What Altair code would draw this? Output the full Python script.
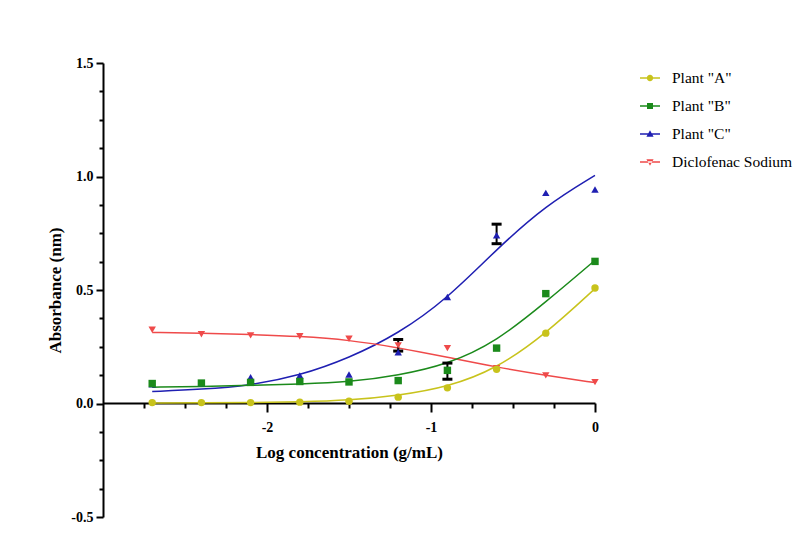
import altair as alt
import pandas as pd

# ---------------- data ----------------
series = ['Plant "A"', 'Plant "B"', 'Plant "C"', 'Diclofenac Sodium']
colors = ["#c8c31c", "#1b8a1b", "#1f1fb2", "#ef4a4a"]
marker_shapes = ["circle", "square", "triangle-up", "triangle-down"]

log_conc = [-2.7, -2.4, -2.1, -1.8, -1.5, -1.2, -0.9, -0.6, -0.3, 0.0]

plant_a = [0.004, 0.004, 0.004, 0.006, 0.010, 0.028, 0.069, 0.151, 0.310, 0.509]
plant_b = [0.088, 0.090, 0.093, 0.097, 0.095, 0.101, 0.146, 0.244, 0.484, 0.626]
plant_c = [0.085, 0.088, 0.116, 0.123, 0.128, 0.226, 0.469, 0.741, 0.928, 0.943]
diclofenac = [0.325, 0.305, 0.300, 0.296, 0.285, 0.256, 0.244, 0.155, 0.124, 0.094]

# fitted curves read at the same concentrations
fit_a = [0.002, 0.003, 0.004, 0.007, 0.014, 0.035, 0.072, 0.153, 0.307, 0.506]
fit_b = [0.072, 0.075, 0.080, 0.086, 0.094, 0.124, 0.172, 0.273, 0.447, 0.631]
fit_c = [0.053, 0.062, 0.080, 0.123, 0.200, 0.307, 0.462, 0.680, 0.873, 1.005]
fit_d = [0.313, 0.310, 0.304, 0.296, 0.280, 0.246, 0.204, 0.160, 0.124, 0.092]

# error bars
err_x = [-1.2, -0.9, -0.6]
err_low = [0.231, 0.107, 0.704]
err_high = [0.282, 0.178, 0.790]

# axis ticks
x_major = [-2, -1, 0]
x_minor = [-2.75, -2.5, -2.25, -1.75, -1.5, -1.25, -0.75, -0.5, -0.25]
y_major = [-0.5, 0.0, 0.5, 1.0, 1.5]
y_minor = [-0.375, -0.25, -0.125, 0.125, 0.25, 0.375, 0.625, 0.75, 0.875,
           1.125, 1.25, 1.375]

# ---------------- tables ----------------
n = len(log_conc)
pts_df = pd.DataFrame({
    "x": log_conc * 4,
    "y": plant_a + plant_b + plant_c + diclofenac,
    "series": [s for s in series for _ in range(n)],
})
fit_df = pd.DataFrame({
    "x": log_conc * 4,
    "y": fit_a + fit_b + fit_c + fit_d,
    "series": [s for s in series for _ in range(n)],
})
err_df = pd.DataFrame({"x": err_x, "low": err_low, "high": err_high})

FONT = "Liberation Serif"
xscale = alt.Scale(domain=[-3, 0], nice=False, zero=False)
yscale = alt.Scale(domain=[-0.5, 1.5], nice=False, zero=False)
X_OFFSET = -114  # x axis crosses at y = 0

main_x_axis = alt.Axis(
    orient="bottom", values=x_major, offset=X_OFFSET, grid=False,
    title="Log concentration (g/mL)", titleFont=FONT, titleFontSize=17,
    titleFontWeight="bold", titleColor="black", titlePadding=10,
    labelFont=FONT, labelFontSize=14, labelFontWeight="bold", labelColor="black",
    labelExpr="datum.value < 0 ? '-' + format(abs(datum.value), 'd') : '0'",
    labelFlush=False, labelOverlap=False, labelPadding=8,
    tickSize=9, tickWidth=2, tickColor="black",
    domainColor="black", domainWidth=2,
)
minor_x_axis = alt.Axis(
    orient="bottom", values=x_minor, offset=X_OFFSET, grid=False, title=None,
    labels=False, domain=False, tickSize=5, tickWidth=2, tickColor="black",
)
main_y_axis = alt.Axis(
    orient="left", values=y_major, grid=False,
    title="Absorbance (nm)", titleFont=FONT, titleFontSize=17,
    titleFontWeight="bold", titleColor="black", titlePadding=6,
    labelFont=FONT, labelFontSize=14, labelFontWeight="bold", labelColor="black",
    labelExpr="datum.value < 0 ? '-' + format(abs(datum.value), '.1f') : format(datum.value, '.1f')",
    labelFlush=False, labelOverlap=False, labelPadding=3,
    tickSize=7, tickWidth=2, tickColor="black",
    domainColor="black", domainWidth=2,
)
minor_y_axis = alt.Axis(
    orient="left", values=y_minor, grid=False, title=None,
    labels=False, domain=False, tickSize=4, tickWidth=2, tickColor="black",
)

# axes carrier (no marks drawn)
axes_main = alt.Chart(pts_df).transform_filter("false").mark_point().encode(
    x=alt.X("x:Q", scale=xscale, axis=main_x_axis),
    y=alt.Y("y:Q", scale=yscale, axis=main_y_axis),
)

# fitted curves, one layer per series
curve_layers = []
for i in [2, 3, 1, 0]:
    curve_layers.append(
        alt.Chart(fit_df)
        .transform_filter(alt.FieldEqualPredicate(field="series", equal=series[i]))
        .mark_line(strokeWidth=1.5, interpolate="basis", color=colors[i])
        .encode(
            x=alt.X("x:Q", scale=xscale, axis=None),
            y=alt.Y("y:Q", scale=yscale, axis=None),
        )
    )

# error bars
err_rule = alt.Chart(err_df).mark_rule(color="black", strokeWidth=2).encode(
    x=alt.X("x:Q", scale=xscale, axis=None),
    y=alt.Y("low:Q", scale=yscale, axis=None),
    y2="high:Q",
)
err_lo = alt.Chart(err_df).mark_tick(orient="horizontal", color="black", size=10,
                                     thickness=3, opacity=1).encode(
    x=alt.X("x:Q", scale=xscale, axis=None),
    y=alt.Y("low:Q", scale=yscale, axis=None),
)
err_hi = alt.Chart(err_df).mark_tick(orient="horizontal", color="black", size=10,
                                     thickness=3, opacity=1).encode(
    x=alt.X("x:Q", scale=xscale, axis=None),
    y=alt.Y("high:Q", scale=yscale, axis=None),
)

# data points (drawn C, D, B, A so overlaps match the reference)
point_layers = []
for i in [2, 3, 1, 0]:
    point_layers.append(
        alt.Chart(pts_df)
        .transform_filter(alt.FieldEqualPredicate(field="series", equal=series[i]))
        .mark_point(shape=marker_shapes[i], filled=True, color=colors[i],
                    size=55, opacity=1)
        .encode(
            x=alt.X("x:Q", scale=xscale, axis=None),
            y=alt.Y("y:Q", scale=yscale, axis=None),
        )
    )

# legend (line + marker symbols as filled paths); carries the minor ticks, draws no marks
legend_paths = [
    "M-1,-0.07H1V0.07H-1ZM-0.32,0A0.32,0.32,0,1,1,0.32,0A0.32,0.32,0,1,1,-0.32,0Z",
    "M-1,-0.07H1V0.07H-1ZM-0.3,-0.3H0.3V0.3H-0.3Z",
    "M-1,-0.07H1V0.07H-1ZM0,-0.38L0.36,0.28H-0.36Z",
    "M-1,-0.07H1V0.07H-1ZM0,0.38L0.36,-0.28H-0.36Z",
]
legend_def = alt.Legend(
    title=None, orient="none", legendX=537, legendY=5, padding=0,
    symbolSize=400, symbolStrokeWidth=0, symbolOpacity=1,
    labelFont=FONT, labelFontSize=15.5, labelColor="black", labelOffset=12,
    labelLimit=300, rowPadding=9,
)
legend_layer = alt.Chart(pts_df).transform_filter("false").mark_point(filled=True).encode(
    x=alt.X("x:Q", scale=xscale, axis=minor_x_axis),
    y=alt.Y("y:Q", scale=yscale, axis=minor_y_axis),
    fill=alt.Fill("series:N", scale=alt.Scale(domain=series, range=colors), legend=legend_def),
    shape=alt.Shape("series:N", scale=alt.Scale(domain=series, range=legend_paths), legend=legend_def),
)

chart = (
    alt.layer(axes_main, *curve_layers, err_rule, err_lo, err_hi, *point_layers, legend_layer)
    .resolve_axis(x="independent", y="independent")
    .properties(
        width=492, height=454,
        autosize=alt.AutoSizeParams(type="none"),
        padding={"left": 95, "top": 55, "right": 204, "bottom": 14},
        background="white",
    )
    .configure_view(stroke=None)
)

chart.save("out.html", embed_options={"renderer": "svg", "actions": False})
